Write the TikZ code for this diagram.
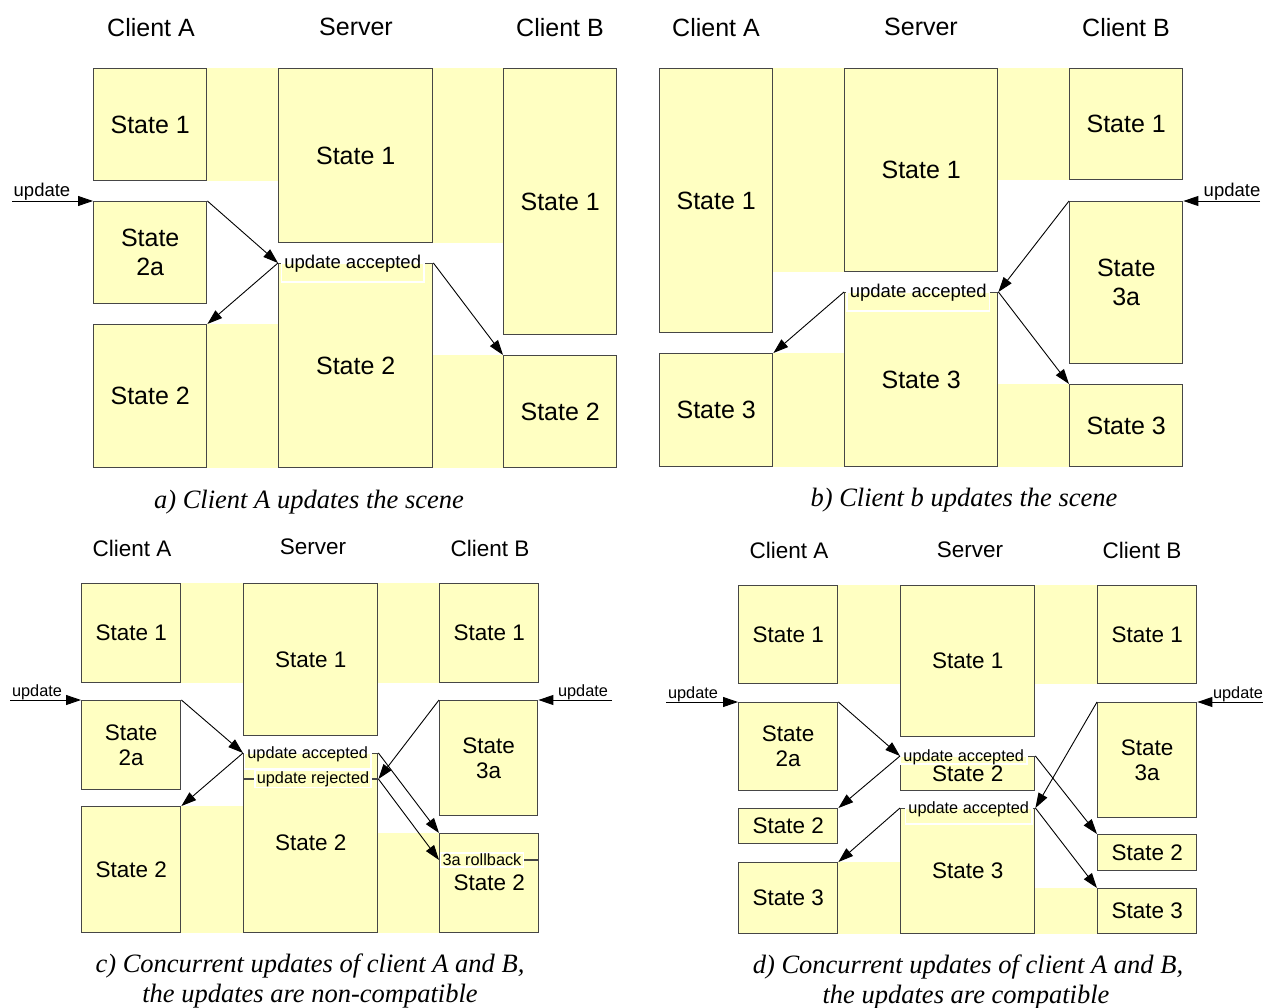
\documentclass[tikz,border=0pt]{standalone}
\usepackage{fontspec}
\setmainfont{Liberation Sans}
\newfontfamily\capserif{Liberation Serif}
\usepackage{tikz}
\usetikzlibrary{arrows.meta,backgrounds}

\definecolor{stfill}{RGB}{255,255,194}
\definecolor{stline}{RGB}{70,70,70}
\newcommand\stbig{\fontsize{25}{29}\selectfont}
\newcommand\stsmall{\fontsize{22.5}{25}\selectfont}
\newcommand\tagbig{\fontsize{18.5}{22}\selectfont}
\newcommand\tagsmall{\fontsize{16.3}{19}\selectfont}
\newcommand\capfnt{\capserif\itshape\fontsize{26.5}{30}\selectfont}

\begin{document}
\begin{tikzpicture}[x=1pt,y=-1pt,
  every node/.style={font=\stbig},
  stbox/.style 2 args={draw=stline, line width=1.4pt, fill=stfill, anchor=north west,
    minimum width=#1, minimum height=#2, inner sep=0pt, align=center},
  band/.style={fill=stfill},
  tag/.style={anchor=base, fill=stfill, draw=white, line width=1.4pt, inner xsep=3pt,
    inner ysep=1pt, text height=5pt, text depth=12pt, font=\tagbig},
  tagmid/.style={fill=stfill, draw=white, line width=1.4pt, inner xsep=2pt, inner ysep=1pt, font=\tagsmall},
  updlbl/.style={anchor=base, inner sep=0pt, font=\tagbig},
  captxt/.style={anchor=base, inner sep=0pt, font=\capfnt},
  upd/.style={-{Triangle[length=15pt,width=10pt]}, line width=0.9pt}]
\useasboundingbox (0,0) rectangle (1263,1008);

% a) client A updates
\node (aTA) at (151,28) {Client A};
\node (aTS) at (356,27) {Server};
\node (aTB) at (560,28) {Client B};
\node[stbox={113}{112}] (aA1) at (93,68) {State 1};
\node[stbox={154}{174}] (aS1) at (278,68) {State 1};
\node[stbox={113}{266}] (aB1) at (503,68) {State 1};
\node[stbox={113}{102}] (aA2a) at (93,201) {State\\2a};
\node[stbox={154}{204}] (aS2) at (278,263) {State 2};
\node[stbox={113}{143}] (aA2) at (93,324) {State 2};
\node[stbox={113}{112}] (aB2) at (503,355) {State 2};
\node[tag] (aAcc) at ([xshift=-3pt,yshift=-6pt]aS2.north) {update accepted};
\coordinate (aU) at (12,201);
\node[updlbl] (aUl) at (42,197) {update};
\begin{scope}[on background layer]
  \fill[band] (aA1.north east) rectangle (aS1.west |- aA1.south);
  \fill[band] (aS1.north east) rectangle (aB1.west |- aS1.south);
  \fill[band] (aA2.north east) rectangle (aS2.west |- aA2.south);
  \fill[band] (aS2.east |- aB2.north) rectangle (aB2.south west);
\end{scope}
\draw[upd] (aU) -- (aA2a.north west);
\draw[upd] (aA2a.north east) -- (aS2.north west);
\draw[upd] (aS2.north west) -- (aA2.north east);
\draw[upd] (aS2.north east) -- (aB2.north west);
\node[captxt] (aCap) at (309,508) {a) Client A updates the scene};

% b) client B updates
\node (bTA) at (716,28) {Client A};
\node (bTS) at (921,27) {Server};
\node (bTB) at (1126,28) {Client B};
\node[stbox={113}{264}] (bA1) at (659,68) {State 1};
\node[stbox={153}{203}] (bS1) at (844,68) {State 1};
\node[stbox={113}{111}] (bB1) at (1069,68) {State 1};
\node[stbox={113}{162}] (bB3a) at (1069,201) {State\\3a};
\node[stbox={153}{174}] (bS3) at (844,292) {State 3};
\node[stbox={113}{113}] (bA3) at (659,353) {State 3};
\node[stbox={113}{82}] (bB3) at (1069,384) {State 3};
\node[tag] (bAcc) at ([xshift=-3pt,yshift=-6pt]bS3.north) {update accepted};
\coordinate (bU) at (1260,201);
\node[updlbl] (bUl) at (1232,197) {update};
\begin{scope}[on background layer]
  \fill[band] (bA1.east |- bS1.north) rectangle (bS1.south west);
  \fill[band] (bS1.east |- bB1.north) rectangle (bB1.south west);
  \fill[band] (bA3.north east) rectangle (bS3.west |- bA3.south);
  \fill[band] (bS3.east |- bB3.north) rectangle (bB3.south west);
\end{scope}
\draw[upd] (bU) -- (bB3a.north east);
\draw[upd] (bB3a.north west) -- (bS3.north east);
\draw[upd] (bS3.north west) -- (bA3.north east);
\draw[upd] (bS3.north east) -- (bB3.north west);
\node[captxt] (bCap) at (964,506) {b) Client b updates the scene};

\begin{scope}[every node/.append style={font=\stsmall},
  tag/.append style={font=\tagsmall, text height=4pt, text depth=10pt},
  updlbl/.append style={font=\tagsmall}]
% c) concurrent, non-compatible
\node (cTA) at (132,548) {Client A};
\node (cTS) at (313,547) {Server};
\node (cTB) at (490,548) {Client B};
\node[stbox={99}{99}] (cA1) at (81,583) {State 1};
\node[stbox={134}{152}] (cS1) at (243,583) {State 1};
\node[stbox={99}{99}] (cB1) at (439,583) {State 1};
\node[stbox={99}{89}] (cA2a) at (81,700) {State\\2a};
\node[stbox={98}{115}] (cB3a) at (439,700) {State\\3a};
\node[stbox={134}{179}] (cS2) at (243,753) {State 2};
\node[stbox={99}{126}] (cA2) at (81,806) {State 2};
\node[stbox={99}{99}] (cB2) at (439,833) {State 2};
\node[tag] (cAcc) at ([xshift=-3pt,yshift=-5pt]cS2.north) {update accepted};
\coordinate (cRej) at ([yshift=-26pt]cS2.north west);
\coordinate (cRejR) at (cRej -| cS2.east);
\draw[stline, line width=1.4pt] (cRej) -- (cRejR);
\node[tagmid] (cRejT) at ([xshift=70pt]cRej) {update rejected};
\coordinate (cRoll) at ([yshift=-27pt]cB2.north west);
\draw[stline, line width=1.4pt] (cRoll) -- (cRoll -| cB2.east);
\node[tagmid] (cRollT) at ([xshift=43pt]cRoll) {3a rollback};
\coordinate (cUa) at (10,700);
\coordinate (cUb) at (612,700);
\node[updlbl] (cUal) at (37,696) {update};
\node[updlbl] (cUbl) at (583,696) {update};
\begin{scope}[on background layer]
  \fill[band] (cA1.north east) rectangle (cS1.west |- cA1.south);
  \fill[band] (cS1.east |- cB1.north) rectangle (cB1.south west);
  \fill[band] (cA2.north east) rectangle (cS2.west |- cA2.south);
  \fill[band] (cS2.east |- cB2.north) rectangle (cB2.south west);
\end{scope}
\draw[upd] (cUa) -- (cA2a.north west);
\draw[upd] (cUb) -- (cB3a.north east);
\draw[upd] (cA2a.north east) -- (cS2.north west);
\draw[upd] (cS2.north west) -- (cA2.north east);
\draw[upd] (cB3a.north west) -- (cRejR);
\draw[upd] (cS2.north east) -- (cB2.north west);
\draw[upd] (cRejR) -- (cRoll);
\node[captxt] (cCap1) at (310,972) {c) Concurrent updates of client A and B,};
\node[captxt] (cCap2) at (310,1002) {the updates are non-compatible};

% d) concurrent, compatible
\node (dTA) at (789,550) {Client A};
\node (dTS) at (970,550) {Server};
\node (dTB) at (1142,550) {Client B};
\node[stbox={99}{98}] (dA1) at (738,585) {State 1};
\node[stbox={134}{151}] (dS1) at (900,585) {State 1};
\node[stbox={99}{98}] (dB1) at (1097,585) {State 1};
\node[stbox={99}{88}] (dA2a) at (738,702) {State\\2a};
\node[stbox={99}{115}] (dB3a) at (1097,702) {State\\3a};
\node[stbox={134}{34}] (dS2) at (900,756) {State 2};
\node[stbox={134}{125}] (dS3) at (900,808) {State 3};
\node[stbox={99}{35}] (dA2) at (738,808) {State 2};
\node[stbox={99}{71}] (dA3) at (738,862) {State 3};
\node[stbox={99}{36}] (dB2) at (1097,834) {State 2};
\node[stbox={99}{45}] (dB3) at (1097,888) {State 3};
\node[tag, text depth=2pt] (dAcc2) at ([xshift=-4pt,yshift=-5pt]dS2.north) {update accepted};
\node[tag] (dAcc3) at ([xshift=1pt,yshift=-5pt]dS3.north) {update accepted};
\coordinate (dUa) at (666,702);
\coordinate (dUb) at (1263,702);
\node[updlbl] (dUal) at (693,698) {update};
\node[updlbl] (dUbl) at (1238,698) {update};
\begin{scope}[on background layer]
  \fill[band] (dA1.north east) rectangle (dS1.west |- dA1.south);
  \fill[band] (dS1.east |- dB1.north) rectangle (dB1.south west);
  \fill[band] (dA3.north east) rectangle (dS3.west |- dA3.south);
  \fill[band] (dS3.east |- dB3.north) rectangle (dB3.south west);
\end{scope}
\draw[upd] (dUa) -- (dA2a.north west);
\draw[upd] (dUb) -- (dB3a.north east);
\draw[upd] (dA2a.north east) -- (dS2.north west);
\draw[upd] (dS2.north west) -- (dA2.north east);
\draw[upd] (dS2.north east) -- (dB2.north west);
\draw[upd] (dB3a.north west) -- (dS3.north east);
\draw[upd] (dS3.north west) -- (dA3.north east);
\draw[upd] (dS3.north east) -- (dB3.north west);
\node[captxt] (dCap1) at (968,973) {d) Concurrent updates of client A and B,};
\node[captxt] (dCap2) at (966,1003) {the updates are compatible};
\end{scope}
\end{tikzpicture}
\end{document}
